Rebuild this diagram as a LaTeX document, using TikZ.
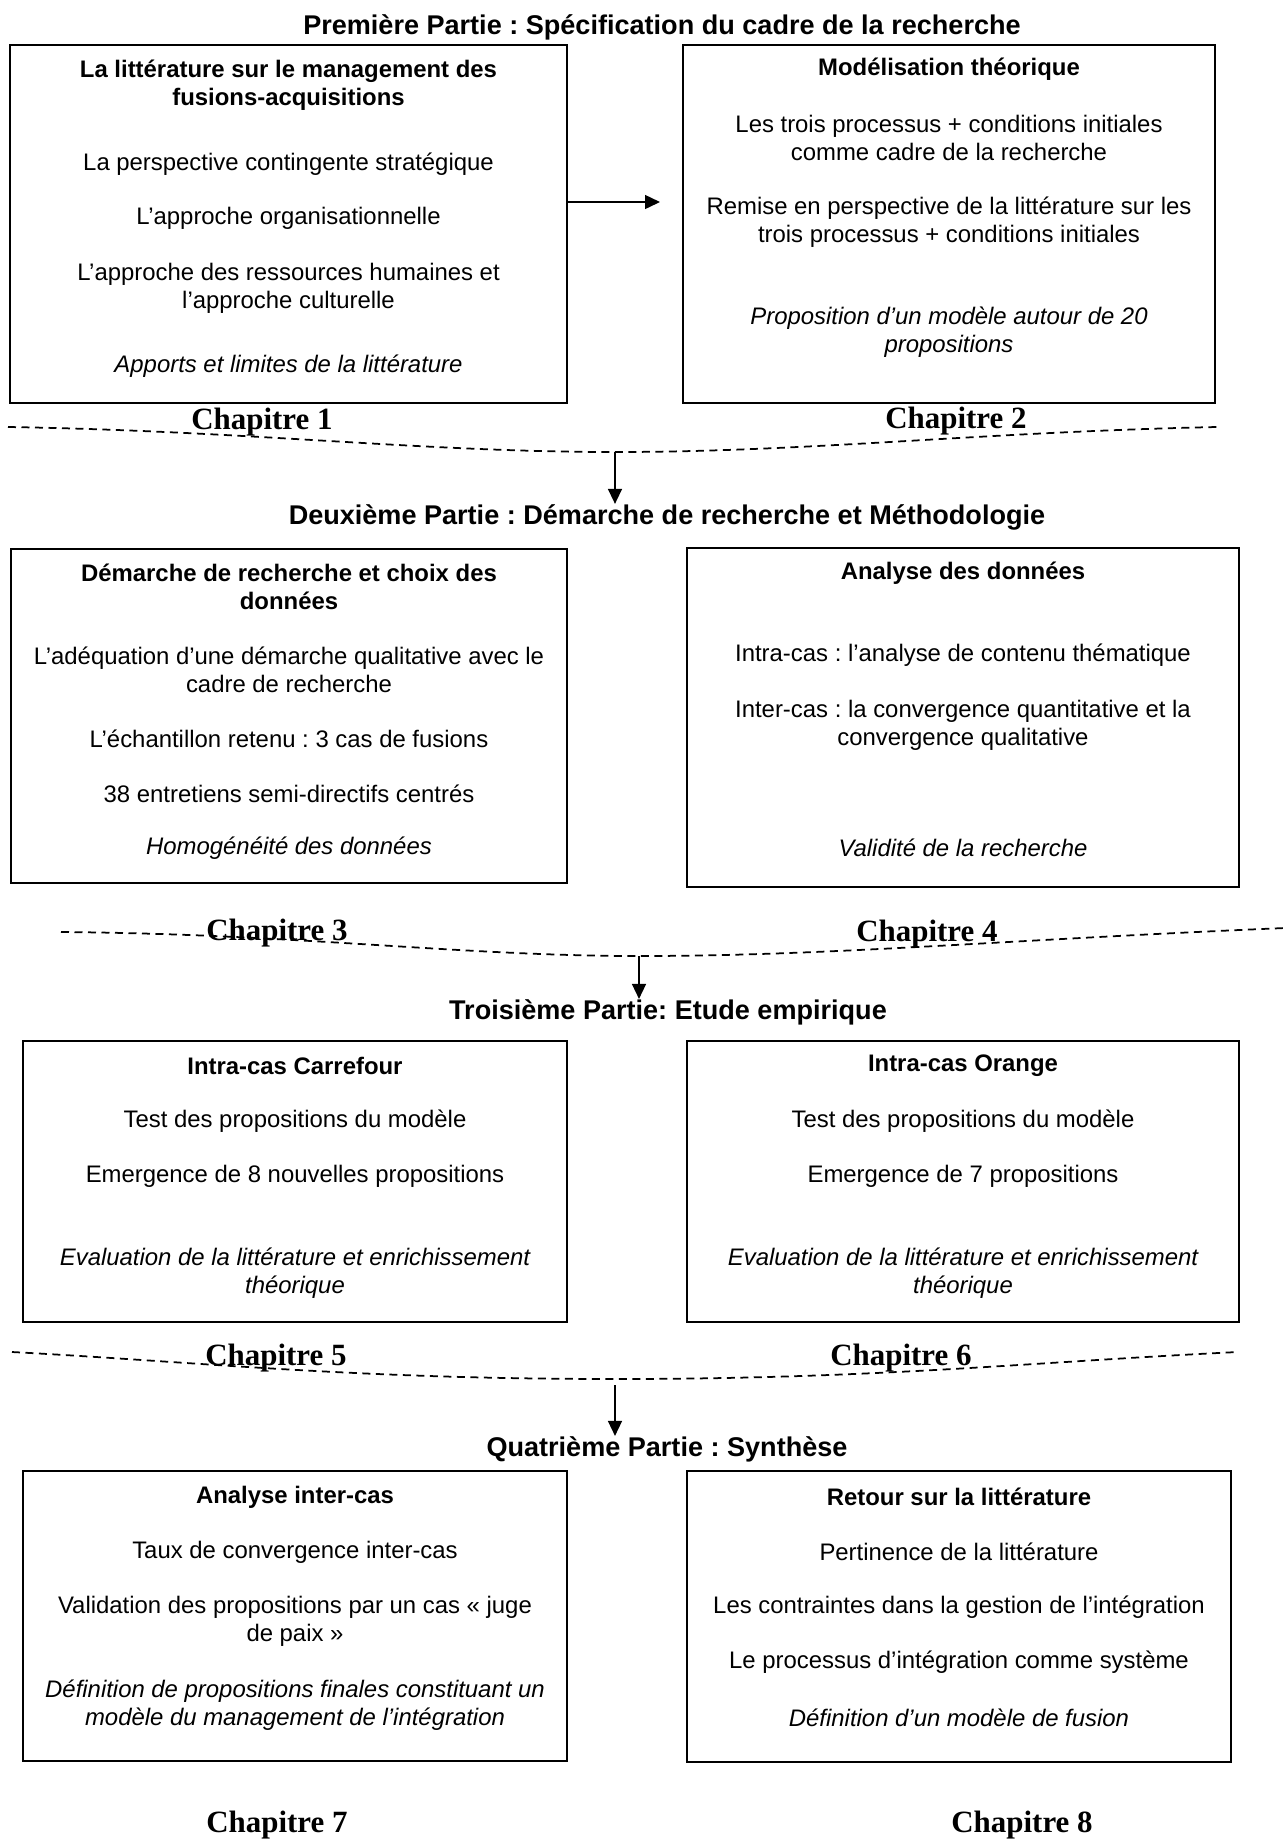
\documentclass[tikz,border=0pt]{standalone}
\usepackage{fontspec}
\setmainfont{Liberation Sans}
\newfontfamily\chapfont{Liberation Serif}
\usetikzlibrary{arrows.meta}
\frenchspacing
\tikzset{
    bloc/.style ={
        draw=black,
        line width=0.4mm,
        inner sep=0pt
    },
    txt/.style ={
        align=center,
        inner sep=0pt,
        font=\fontsize{13.6}{15.9}\selectfont
    },
    titre/.style ={
        txt,
        font=\fontsize{13.6}{15.9}\selectfont\bfseries
    },
    ital/.style ={
        txt,
        font=\fontsize{13.6}{15.9}\selectfont\itshape
    },
    partie/.style ={
        inner sep=0pt,
        font=\fontsize{15.4}{18}\selectfont\bfseries
    },
    chap/.style ={
        anchor=base,
        inner sep=0pt,
        font=\chapfont\fontsize{17.6}{20}\selectfont\bfseries
    },
    sep/.style ={
        dash pattern=on 1.6mm off 1.1mm,
        line width=0.35mm
    },
    fleche/.style ={
        -{Triangle[length=3mm,width=2.8mm]},
        line width=0.3mm
    }
}

\begin{document}
\begin{tikzpicture}[x=0.2mm,y=-0.2mm]
    \useasboundingbox (0,0) rectangle (1285,1839);

    % Premiere partie
    \node[partie] (p1) at (662,27) {Première Partie : Spécification du cadre de la recherche};
    \node[bloc,minimum width=111.4mm,minimum height=71.6mm] (lit) at (288.5,224) {};
    \node[bloc,minimum width=106.4mm,minimum height=71.6mm] (modele) at (949,224) {};
    \node[titre] (lit-t) at (288.5,85) {La littérature sur le management des\\fusions-acquisitions};
    \node[txt] (lit-a) at (288.5,164) {La perspective contingente stratégique};
    \node[txt] (lit-b) at (288.5,218) {L’approche organisationnelle};
    \node[txt] (lit-c) at (288.5,288) {L’approche des ressources humaines et\\l’approche culturelle};
    \node[ital] (lit-d) at (288.5,366) {Apports et limites de la littérature};
    \node[titre] (mod-t) at (949,69) {Modélisation théorique};
    \node[txt] (mod-a) at (949,138) {Les trois processus + conditions initiales\\comme cadre de la recherche};
    \node[txt] (mod-b) at (949,222) {Remise en perspective de la littérature sur les\\trois processus + conditions initiales};
    \node[ital] (mod-c) at (949,332) {Proposition d’un modèle autour de 20\\propositions};
    \node[chap] (ch1) at (262,429) {Chapitre 1};
    \node[chap] (ch2) at (956,428) {Chapitre 2};
    \draw[fleche,shorten >=4.4mm] ([yshift=4.4mm]lit.east) -- ([yshift=4.4mm]modele.west);
    \coordinate (s1) at (615,452);
    \draw[sep] (8,427) .. controls (250,431) and (420,452) .. (s1)
        .. controls (810,452) and (980,432) .. (1217,427);

    % Deuxieme partie
    \node[partie] (p2) at (667,517) {Deuxième Partie : Démarche de recherche et Méthodologie};
    \draw[fleche] (s1) -- (s1 |- p2.north);
    \node[bloc,minimum width=111.2mm,minimum height=66.8mm] (demarche) at (289,716) {};
    \node[bloc,minimum width=110.4mm,minimum height=67.8mm] (analyse) at (963,717.5) {};
    \node[titre] (dem-t) at (289,587) {Démarche de recherche et choix des\\données};
    \node[txt] (dem-a) at (289,670) {L’adéquation d’une démarche qualitative avec le\\cadre de recherche};
    \node[txt] (dem-b) at (289,739) {L’échantillon retenu : 3 cas de fusions};
    \node[txt] (dem-c) at (289,794) {38 entretiens semi-directifs centrés};
    \node[ital] (dem-d) at (289,848) {Homogénéité des données};
    \node[titre] (ana-t) at (963,573) {Analyse des données};
    \node[txt] (ana-a) at (963,655) {Intra-cas : l’analyse de contenu thématique};
    \node[txt] (ana-b) at (963,725) {Inter-cas : la convergence quantitative et la\\convergence qualitative};
    \node[ital] (ana-c) at (963,848) {Validité de la recherche};
    \node[chap] (ch3) at (277,940) {Chapitre 3};
    \node[chap] (ch4) at (927,941) {Chapitre 4};
    \coordinate (s2) at (639,956);
    \draw[sep] (61,932) .. controls (300,934) and (460,956) .. (s2)
        .. controls (830,956) and (1000,940) .. (1285,928);

    % Troisieme partie
    \node[partie] (p3) at (668,1012) {Troisième Partie: Etude empirique};
    \draw[fleche] (s2) -- (s2 |- p3.north);
    \node[bloc,minimum width=108.8mm,minimum height=56.2mm] (carrefour) at (295,1181.5) {};
    \node[bloc,minimum width=110.4mm,minimum height=56.2mm] (orange) at (963,1181.5) {};
    \node[titre] (car-t) at (295,1066) {Intra-cas Carrefour};
    \node[txt] (car-a) at (295,1121) {Test des propositions du modèle};
    \node[txt] (car-b) at (295,1176) {Emergence de 8 nouvelles propositions};
    \node[ital] (car-c) at (295,1273) {Evaluation de la littérature et enrichissement\\théorique};
    \node[titre] (ora-t) at (963,1066) {Intra-cas Orange};
    \node[txt] (ora-a) at (963,1121) {Test des propositions du modèle};
    \node[txt] (ora-b) at (963,1176) {Emergence de 7 propositions};
    \node[ital] (ora-c) at (963,1273) {Evaluation de la littérature et enrichissement\\théorique};
    \node[chap] (ch5) at (276,1365) {Chapitre 5};
    \node[chap] (ch6) at (901,1365) {Chapitre 6};
    \coordinate (s3) at (615,1379);
    \draw[sep] (12,1352) .. controls (200,1362) and (350,1379) .. (s3)
        .. controls (880,1379) and (1030,1362) .. (1238,1352);

    % Quatrieme partie
    \node[partie] (p4) at (667,1449) {Quatrième Partie : Synthèse};
    \draw[fleche,shorten <=1.2mm] (s3) -- (s3 |- p4.north);
    \node[bloc,minimum width=108.8mm,minimum height=58mm] (intercas) at (295,1616) {};
    \node[bloc,minimum width=108.8mm,minimum height=58.2mm] (retour) at (959,1616.5) {};
    \node[titre] (int-t) at (295,1497) {Analyse inter-cas};
    \node[txt] (int-a) at (295,1552) {Taux de convergence inter-cas};
    \node[txt] (int-b) at (295,1621) {Validation des propositions par un cas « juge\\de paix »};
    \node[ital] (int-c) at (295,1705) {Définition de propositions finales constituant un\\modèle du management de l’intégration};
    \node[titre] (ret-t) at (959,1497) {Retour sur la littérature};
    \node[txt] (ret-a) at (959,1552) {Pertinence de la littérature};
    \node[txt] (ret-b) at (959,1607) {Les contraintes dans la gestion de l’intégration};
    \node[txt] (ret-c) at (959,1662) {Le processus d’intégration comme système};
    \node[ital] (ret-d) at (959,1718) {Définition d’un modèle de fusion};
    \node[chap] (ch7) at (277,1832) {Chapitre 7};
    \node[chap] (ch8) at (1022,1832) {Chapitre 8};
\end{tikzpicture}
\end{document}
